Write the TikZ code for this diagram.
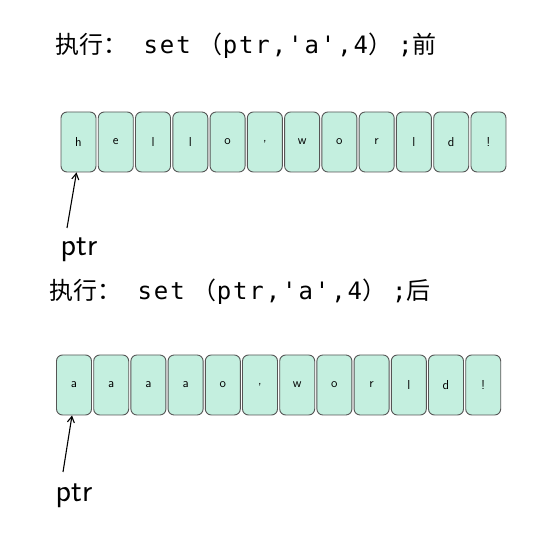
\documentclass[tikz,border=0pt]{standalone}
\usepackage{fontspec}
\setmonofont[LetterSpace=8]{DejaVu Sans Mono}
\newfontfamily\cjk{Noto Sans CJK SC}
\usetikzlibrary{arrows.meta}
\definecolor{cellfill}{RGB}{196,239,223}
\definecolor{cellline}{RGB}{85,85,85}

\begin{document}
\begin{tikzpicture}[x=1pt,y=1pt]
		\tikzset{> = {Straight Barb[length=6pt,width=7pt]}}
		\tikzset{cell/.style = {draw=cellline, fill=cellfill, line width=0.9pt, rounded corners=6pt, minimum width=35pt, minimum height=60pt, inner sep=0pt, font=\sffamily\fontsize{13}{13}\selectfont}}
		\tikzset{title/.style = {anchor=base west, inner sep=0pt, font=\ttfamily\fontsize{24}{28}\selectfont}}
		\tikzset{ptrlabel/.style = {inner sep=0pt, font=\sffamily\fontsize{32}{32}\selectfont}}
		\useasboundingbox (0,0) rectangle (538,544);
		% before
		\node[title] (T1) at (55,490) {{\cjk 执行：}\ set\hspace{8pt}{\cjk （}ptr,'a',4{\cjk ）}\hspace{6pt};{\cjk 前}};
		\foreach \c [count=\i] in {h,e,l,l,o,{,},w,o,r,l,d,!}
			\node[cell] (A\i) at ({78.5+37.27*(\i-1)},402) {\c};
		\node[ptrlabel] (P1) at (79,294) {ptr};
		\coordinate (S1) at (67,316);
		\draw[->, line width=1.1pt] (S1) -- ([xshift=-2pt]A1.south);
		% after
		\node[title] (T2) at (49,244) {{\cjk 执行：}\ set\hspace{8pt}{\cjk （}ptr,'a',4{\cjk ）}\hspace{6pt};{\cjk 后}};
		\foreach \c [count=\i] in {a,a,a,a,o,{,},w,o,r,l,d,!}
			\node[cell] (B\i) at ({74+37.2*(\i-1)},159) {\c};
		\node[ptrlabel] (P2) at (74,48) {ptr};
		\coordinate (S2) at (63,72);
		\draw[->, line width=1.1pt] (S2) -- ([xshift=-2pt]B1.south);
	\end{tikzpicture}
\end{document}
